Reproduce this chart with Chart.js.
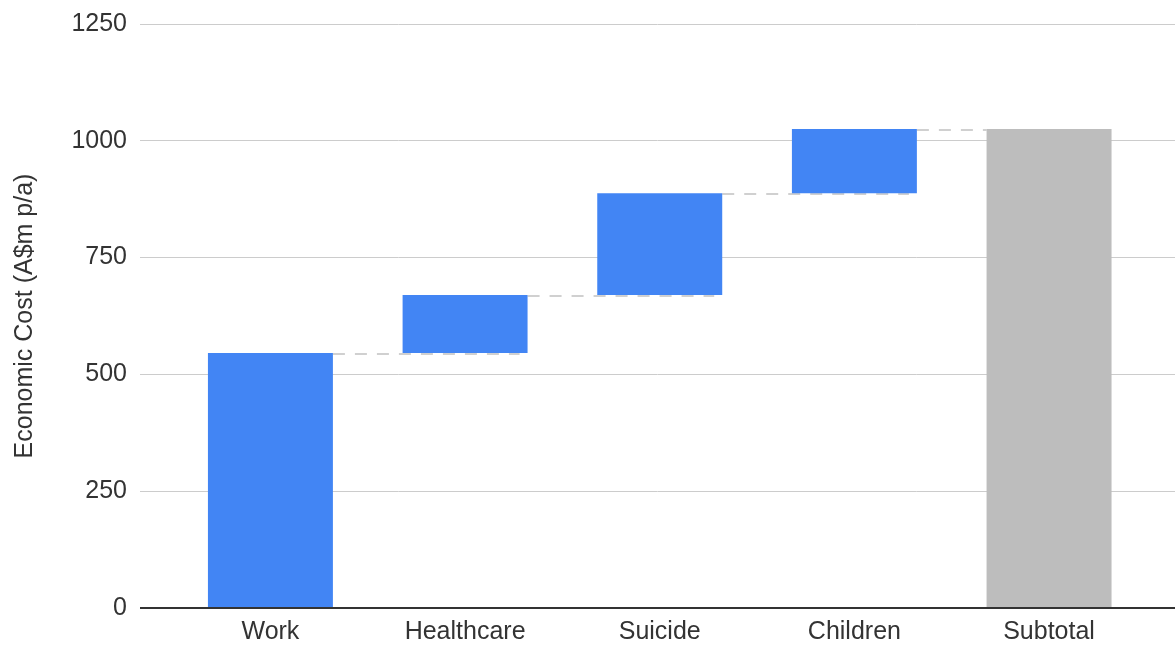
<!DOCTYPE html>
<html>
<head>
<meta charset="utf-8">
<script src="https://cdn.jsdelivr.net/npm/chart.js@4/dist/chart.umd.min.js"></script>
<style>
  html, body { margin: 0; padding: 0; background: #fff; }
  #wrap { width: 1175px; height: 645px; }
</style>
</head>
<body>
<div id="wrap"><canvas id="waterfall" width="1175" height="645"></canvas></div>
<script>
// dados (A$m p/a)
const categories = ['Work', 'Healthcare', 'Suicide', 'Children', 'Subtotal'];
const increments = [546, 124, 218, 137];
const isTotal = [false, false, false, false, true];
const yTicks = [0, 250, 500, 750, 1000, 1250];

const blue = '#4285f4';
const grey = '#bdbdbd';

// monta inicio/fim de cada barra flutuante
const starts = [];
const ends = [];
let acc = 0;
categories.forEach((c, i) => {
  if (isTotal[i]) {
    starts.push(0);
    ends.push(acc);
  } else {
    starts.push(acc);
    acc += increments[i];
    ends.push(acc);
  }
});

// linhas tracejadas ligando uma barra a proxima
const connectors = {
  id: 'connectors',
  beforeDatasetsDraw(chart) {
    const meta = chart.getDatasetMeta(0);
    const y = chart.scales.y;
    const ctx = chart.ctx;
    ctx.save();
    ctx.strokeStyle = '#d0d0d0';
    ctx.lineWidth = 2;
    ctx.setLineDash([12, 10]);
    for (let i = 0; i < meta.data.length - 1; i++) {
      const a = meta.data[i];
      const b = meta.data[i + 1];
      const py = Math.round(y.getPixelForValue(ends[i])) + 1;
      const x1 = a.x + a.width / 2;
      const x2 = isTotal[i + 1] ? b.x - b.width / 2 : b.x + b.width / 2 - 8;
      ctx.beginPath();
      ctx.moveTo(x1, py);
      ctx.lineTo(x2, py);
      ctx.stroke();
    }
    ctx.restore();
  }
};

const ctx = document.getElementById('waterfall').getContext('2d');
const fontBase = { family: '"Liberation Sans", Arial, sans-serif', size: 25 };

new Chart(ctx, {
  type: 'bar',
  data: {
    datasets: [{
      data: categories.map((c, i) => ({ x: i, y: [starts[i], ends[i]] })),
      backgroundColor: categories.map((c, i) => isTotal[i] ? grey : blue),
      borderWidth: 0,
      categoryPercentage: 1,
      barPercentage: 0.642
    }]
  },
  options: {
    responsive: false,
    animation: false,
    layout: { padding: { top: 24, right: 0, bottom: 0, left: 0 } },
    plugins: {
      legend: { display: false },
      tooltip: { enabled: false }
    },
    scales: {
      x: {
        type: 'linear',
        offset: false,
        min: -0.67,
        max: 4.647,
        afterBuildTicks: (scale) => {
          scale.ticks = categories.map((c, i) => ({ value: i }));
        },
        afterFit: (scale) => { scale.height = 37; },
        grid: { display: false, drawTicks: false },
        border: { display: false },
        ticks: {
          padding: 9,
          color: '#333',
          font: fontBase,
          callback: (v) => categories[v] !== undefined ? categories[v] : ''
        }
      },
      y: {
        min: 0,
        max: 1250,
        afterBuildTicks: (scale) => {
          scale.ticks = yTicks.map(v => ({ value: v }));
        },
        afterFit: (scale) => {
          scale.width = 140;
          scale.paddingTop = 0;
          scale.paddingBottom = 0;
        },
        border: { display: false },
        grid: {
          drawTicks: false,
          color: (c) => c.tick && c.tick.value === 0 ? '#333' : '#cccccc',
          lineWidth: (c) => c.tick && c.tick.value === 0 ? 2 : 1
        },
        ticks: {
          padding: 13,
          color: '#333',
          font: fontBase,
          callback: (v) => String(v)
        },
        title: {
          display: true,
          text: 'Economic Cost (A$m p/a)',
          color: '#333',
          font: fontBase,
          padding: { top: 10, bottom: 0 }
        }
      }
    }
  },
  plugins: [connectors]
});
</script>
</body>
</html>
